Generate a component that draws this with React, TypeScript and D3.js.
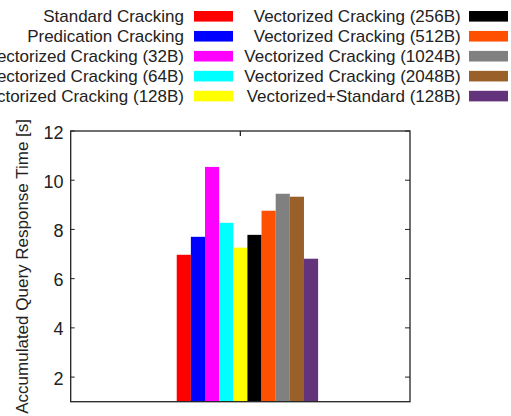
import React from "react";
import * as d3 from "d3";

const seriesNames = [
  "Standard Cracking",
  "Predication Cracking",
  "Vectorized Cracking (32B)",
  "Vectorized Cracking (64B)",
  "Vectorized Cracking (128B)",
  "Vectorized Cracking (256B)",
  "Vectorized Cracking (512B)",
  "Vectorized Cracking (1024B)",
  "Vectorized Cracking (2048B)",
  "Vectorized+Standard (128B)",
];
const seriesValues = [6.97, 7.7, 10.54, 8.27, 7.26, 7.78, 8.76, 9.45, 9.33, 6.81];
const seriesColors = [
  "#ff0000",
  "#0000ff",
  "#ff00ff",
  "#00ffff",
  "#ffff00",
  "#000000",
  "#ff4f00",
  "#808080",
  "#99602a",
  "#63337b",
];
const yTicks = [2, 4, 6, 8, 10, 12];
const yLabel = "Accumulated Query Response Time [s]";

const W = 511;
const H = 416;
const plot = { left: 70.7, right: 410, top: 131, bottom: 401.7 };
const FONT = "'Liberation Sans', Arial, Helvetica, sans-serif";

export default function App() {
  const x = d3.scaleLinear().domain([-1, 1]).range([plot.left, plot.right]);
  const y = d3.scaleLinear().domain([1, 12]).range([plot.bottom, plot.top]);
  const n = seriesValues.length;
  const gap = 2;
  const unit = 1 / (n + gap);
  const barStart = (j: number) => -0.5 + (j + 1.5) * unit;

  const rows = 5;
  const rowStep = 19.95;
  const legendCols = [
    { textEnd: 184, swatchX: 194 },
    { textEnd: 460.7, swatchX: 469 },
  ];

  return (
    <svg
      width={W}
      height={H}
      style={{ position: "absolute", left: 0, top: 0, background: "#fff" }}
      fontFamily={FONT}
    >
      <rect x={0} y={0} width={W} height={H} fill="#fff" />
      {/* legend */}
      {seriesNames.map((name, i) => {
        const col = legendCols[Math.floor(i / rows)];
        const r = i % rows;
        return (
          <g key={name}>
            <text
              x={col.textEnd}
              y={21.7 + r * rowStep}
              textAnchor="end"
              fontSize={17}
              fill="#222"
            >
              {name}
            </text>
            <rect
              x={col.swatchX}
              y={11 + r * rowStep}
              width={39}
              height={10.6}
              fill={seriesColors[i]}
            />
          </g>
        );
      })}

      {/* bottom tick (under bars) */}
      <line x1={x(0)} x2={x(0)} y1={plot.bottom} y2={plot.bottom - 5} stroke="#222" />

      {/* bars */}
      {seriesValues.map((v, j) => (
        <rect
          key={j}
          x={x(barStart(j))}
          y={y(v)}
          width={x(barStart(j) + unit) - x(barStart(j))}
          height={y(1) - y(v)}
          fill={seriesColors[j]}
        />
      ))}

      {/* frame */}
      <rect
        x={plot.left}
        y={plot.top}
        width={plot.right - plot.left}
        height={plot.bottom - plot.top}
        fill="none"
        stroke="#222"
        strokeWidth={1.3}
      />
      <line x1={x(0)} x2={x(0)} y1={plot.top} y2={plot.top + 5} stroke="#222" strokeWidth={1.3} />

      {/* y ticks */}
      {yTicks.map((t) => (
        <g key={t}>
          <line x1={plot.left} x2={plot.left + 4} y1={y(t)} y2={y(t)} stroke="#222" />
          <line x1={plot.right} x2={plot.right - 5} y1={y(t)} y2={y(t)} stroke="#222" />
          <text x={63.5} y={y(t) + 7.5} textAnchor="end" fontSize={18} fill="#222">
            {t}
          </text>
        </g>
      ))}

      {/* y label */}
      <text
        transform={`translate(27.5, ${(plot.top + plot.bottom) / 2}) rotate(-90)`}
        textAnchor="middle"
        fontSize={17}
        fill="#222"
      >
        {yLabel}
      </text>
    </svg>
  );
}
